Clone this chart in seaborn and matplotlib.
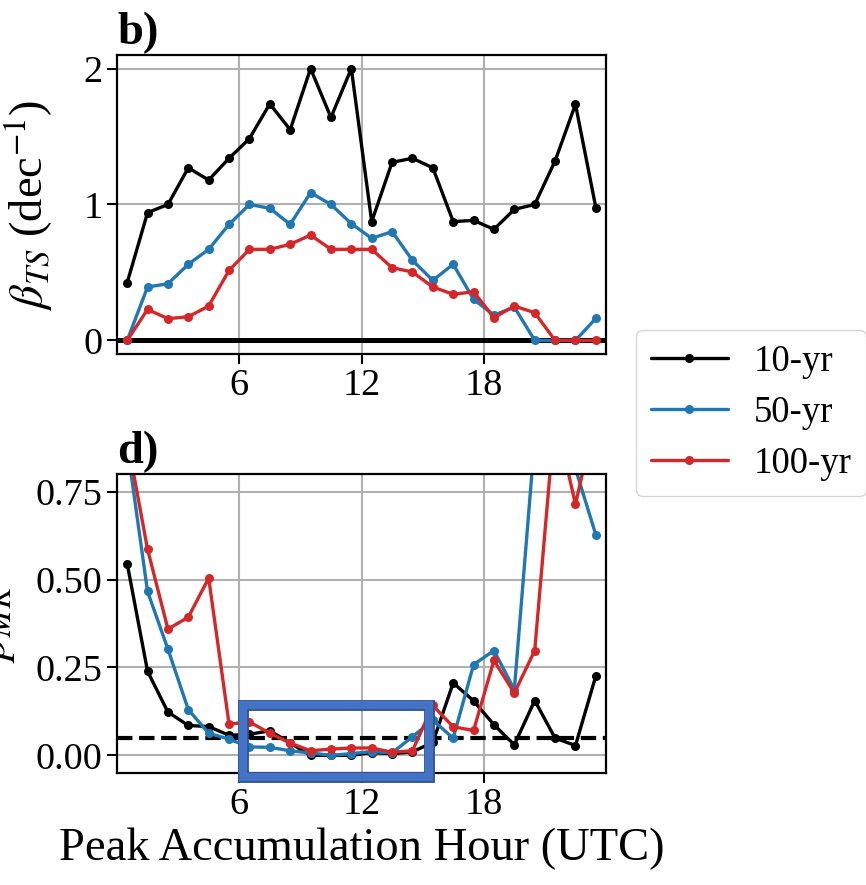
import matplotlib
matplotlib.use("Agg")
import matplotlib.pyplot as plt
from matplotlib.patches import Rectangle
import seaborn as sns
import pandas as pd

# ---------------- data ----------------
hours = [0.5, 1.5, 2.5, 3.5, 4.5, 5.5, 6.5, 7.5, 8.5, 9.5, 10.5, 11.5,
         12.5, 13.5, 14.5, 15.5, 16.5, 17.5, 18.5, 19.5, 20.5, 21.5, 22.5, 23.5]
periods = ["10-yr", "50-yr", "100-yr"]
colors = ["#000000", "#1f77b4", "#d62728"]

beta_10 = [0.425, 0.94, 1.0, 1.27, 1.18, 1.34, 1.485, 1.74, 1.55, 2.0, 1.64, 2.0,
           0.874, 1.31, 1.34, 1.27, 0.874, 0.883, 0.817, 0.964, 1.0, 1.32, 1.737, 0.977]
beta_50 = [0.0, 0.393, 0.417, 0.56, 0.67, 0.854, 1.0, 0.972, 0.854, 1.087, 1.0, 0.859,
           0.751, 0.8, 0.589, 0.442, 0.56, 0.302, 0.186, 0.245, 0.0, 0.0, 0.0, 0.162]
beta_100 = [0.0, 0.228, 0.16, 0.174, 0.253, 0.515, 0.67, 0.67, 0.707, 0.775, 0.67, 0.67,
            0.67, 0.535, 0.503, 0.393, 0.339, 0.358, 0.167, 0.253, 0.204, 0.0, 0.0, 0.0]

p_10 = [0.545, 0.239, 0.123, 0.085, 0.082, 0.057, 0.06, 0.07, 0.035, 0.0, 0.0, 0.0,
        0.008, 0.005, 0.01, 0.037, 0.206, 0.155, 0.087, 0.03, 0.156, 0.049, 0.028, 0.226]
p_50 = [0.88, 0.466, 0.302, 0.13, 0.063, 0.046, 0.024, 0.023, 0.013, 0.007, 0.0, 0.005,
        0.011, 0.007, 0.053, 0.10, 0.049, 0.258, 0.298, 0.187, 0.9, 1.0, 0.815, 0.627]
p_100 = [0.90, 0.586, 0.359, 0.393, 0.504, 0.089, 0.095, 0.063, 0.035, 0.013, 0.018, 0.021,
         0.021, 0.009, 0.013, 0.142, 0.081, 0.071, 0.27, 0.177, 0.298, 0.97, 0.714, 0.97]

p_threshold = 0.05
x_ticks = [6, 12, 18]

# ---------------- tables ----------------
def long_df(series):
    rows = []
    for name, vals in zip(periods, series):
        for h, v in zip(hours, vals):
            rows.append({"hour": h, "value": v, "period": name})
    return pd.DataFrame(rows)

df_beta = long_df([beta_10, beta_50, beta_100])
df_p = long_df([p_10, p_50, p_100])

# ---------------- style ----------------
sns.set_style("ticks")
plt.rcParams["font.family"] = ["Liberation Serif", "DejaVu Serif"]
plt.rcParams["mathtext.fontset"] = "stix"
plt.rcParams["axes.linewidth"] = 1.6
for key in ("text.color", "axes.labelcolor", "xtick.color", "ytick.color",
            "axes.edgecolor"):
    plt.rcParams[key] = "black"

fs_tick = 27.5
fs_label = 33.5
fs_leg = 26.5

fig = plt.figure(figsize=(8.66, 8.85), dpi=100)
ax1 = fig.add_axes([0.1351, 0.6000, 0.5647, 0.3379])
ax2 = fig.add_axes([0.1351, 0.1266, 0.5647, 0.3378])

palette = dict(zip(periods, colors))
line_kw = dict(marker="o", markersize=6.5, linewidth=2.4, markeredgewidth=0,
               errorbar=None, sort=False)

sns.lineplot(data=df_beta, x="hour", y="value", hue="period", hue_order=periods,
             palette=palette, ax=ax1, legend=True, **line_kw)
sns.lineplot(data=df_p, x="hour", y="value", hue="period", hue_order=periods,
             palette=palette, ax=ax2, legend=False, **line_kw)

ax1.axhline(0, color="k", lw=3.6, zorder=1.5)
ax2.axhline(p_threshold, color="k", lw=3.0, ls="--", zorder=1.5)

for ax in (ax1, ax2):
    ax.set_xlim(0, 24)
    ax.set_xticks(x_ticks)
    ax.grid(True, color="#b0b0b0", lw=1.5)
    ax.set_axisbelow(True)
    ax.tick_params(labelsize=fs_tick, length=7, width=1.5, direction="out",
                   colors="black")
    for s in ax.spines.values():
        s.set_linewidth(1.6)
        s.set_color("black")
    ax.set_xlabel("")

ax1.set_ylim(-0.1, 2.1)
ax1.set_yticks([0, 1, 2])
ax2.set_ylim(-0.05, 0.8)
ax2.set_yticks([0.0, 0.25, 0.5, 0.75])
ax2.set_yticklabels(["0.00", "0.25", "0.50", "0.75"])

ax1.set_ylabel(r"$\beta_{TS}$ (dec$^{-1}$)", fontsize=fs_label, color="black")
ax1.yaxis.set_label_coords(-0.127, 0.5)
ax2.set_ylabel(r"$p_{MK}$", fontsize=fs_label, color="black")
ax2.yaxis.set_label_coords(-0.205, 0.5)
ax2.set_xlabel("Peak Accumulation Hour (UTC)", fontsize=fs_label, color="black")

ax1.set_title("b)", loc="left", fontsize=fs_label, fontweight="bold", pad=8,
              color="black")
ax2.set_title("d)", loc="left", fontsize=fs_label, fontweight="bold", pad=8,
              color="black")

# highlight box
ax2.add_patch(Rectangle((6.17, -0.0605), 15.33 - 6.17, 0.144 + 0.0605, fill=False,
                        edgecolor="#2F528F", lw=7.8, clip_on=False, zorder=6))
ax2.add_patch(Rectangle((6.17, -0.0605), 15.33 - 6.17, 0.144 + 0.0605, fill=False,
                        edgecolor="#4472C4", lw=6.0, clip_on=False, zorder=7))

# legend
handles, labels = ax1.get_legend_handles_labels()
ax1.get_legend().remove()
leg = fig.legend(handles, labels, loc="upper left",
                 bbox_to_anchor=(636 / 866, 1 - 330 / 885),
                 fontsize=fs_leg, frameon=True, handlelength=2.1, handletextpad=0.7,
                 labelspacing=0.45, borderaxespad=0.0)
for t in leg.get_texts():
    t.set_color("black")

fig.savefig("out.png", dpi=100)
